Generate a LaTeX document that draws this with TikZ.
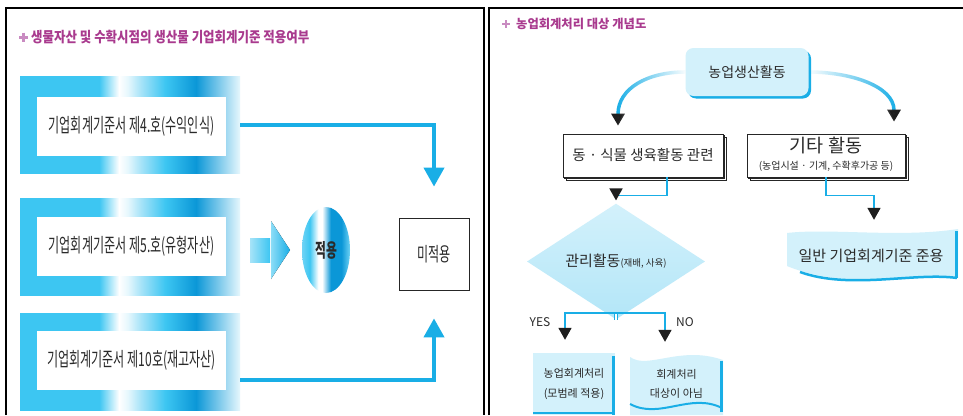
\documentclass[tikz,border=0pt]{standalone}
\usepackage{fontspec}
\setmainfont{Noto Sans CJK KR}
\newfontfamily\kr{Noto Sans CJK KR}
\newfontfamily\krc[FakeStretch=0.62]{Noto Sans CJK KR}
\newfontfamily\krt[FakeStretch=0.86]{Noto Sans CJK KR}
\usetikzlibrary{arrows.meta,shadows,shapes.geometric,fadings}
\definecolor{cy}{HTML}{19AEE6}
\definecolor{cA}{HTML}{3DC6F2}
\definecolor{cB}{HTML}{0B97D7}
\definecolor{cL}{HTML}{A6E3F8}
\definecolor{cW}{HTML}{E6F7FD}
\definecolor{cM}{HTML}{6FD3F5}
\definecolor{mag}{HTML}{A93A8E}
\definecolor{plus}{HTML}{C98BC1}
\definecolor{pale}{HTML}{D3F1FB}
\definecolor{paleD}{HTML}{B3E6F8}
\definecolor{dark}{HTML}{1E1E1E}
\definecolor{txt}{HTML}{2A2A2A}
\pgfdeclarehorizontalshading{band}{100bp}{color(0bp)=(cA); color(25bp)=(cA); color(43bp)=(cA); color(47.5bp)=(white); color(49.5bp)=(cW); color(52.5bp)=(cL); color(58bp)=(cA); color(65bp)=(cB); color(75bp)=(cW); color(100bp)=(cW)}
\pgfdeclarehorizontalshading{ellshade}{100bp}{color(0bp)=(cM); color(25bp)=(cM); color(33bp)=(cA); color(42bp)=(white); color(46bp)=(white); color(55bp)=(cB); color(66bp)=(cB); color(75bp)=(cM); color(100bp)=(cM)}
\tikzfading[name=fadeL, left color=transparent!0, right color=transparent!100]
\tikzfading[name=fadeR, left color=transparent!100, right color=transparent!0]
\tikzset{
  bandbox/.style={rectangle, shading=band, minimum width=220pt, minimum height=97pt, inner sep=0pt},
  inbox/.style={rectangle, fill=white, minimum width=189pt, minimum height=59pt, inner sep=0pt, text=txt, font=\krc\fontsize{19.5}{21}\selectfont},
  bigarrow/.style={draw=cy, line width=4pt, -{Triangle[length=19pt,width=20pt]}},
  stackbox/.style={rectangle, draw=black!85, line width=0.7pt, fill=white, inner sep=0pt, text=txt,
    copy shadow={shadow xshift=3pt, shadow yshift=-3pt, draw=black!85, line width=0.7pt},
    copy shadow={shadow xshift=1.5pt, shadow yshift=-1.5pt, draw=black!85, line width=0.7pt}},
  flow/.style={draw=cy, line width=1.6pt, -{Triangle[length=12pt,width=13pt,color=dark]}},
  curved/.style={draw=cy, line width=3.5pt, -{Triangle[length=12pt,width=13pt,color=dark]}},
  lbl/.style={inner sep=0pt, text=txt},
  plusmark/.style={draw=plus, line width=#1, line cap=butt},
}
\begin{document}
\begin{tikzpicture}[x=1pt,y=-1pt]
\useasboundingbox (0,0) rectangle (963,415);
\fill[white] (0,0) rectangle (963,415);
% panel frames
\draw[line width=1.5pt] (6,415) -- (6,8) -- (484,8) -- (484,415);
\draw[line width=1.5pt] (489,415) -- (489,8) -- (963,8);

% ---------------- left panel ----------------
\draw[plusmark=3pt] (19,37) -- (28,37) (23.5,32.5) -- (23.5,41.5);
\node[anchor=west, inner sep=0pt, font=\krt\bfseries\fontsize{14.5}{14.5}\selectfont, text=mag] (ltitle) at (31,37) {생물자산 및 수확시점의 생산물 기업회계기준 적용여부};

\node[bandbox] (b1) at (130,125) {};
\node[inbox] (b1t) at (131.5,126.5) {기업회계기준서 제4.호(수익인식)};
\node[bandbox] (b2) at (130,246.5) {};
\node[inbox] (b2t) at (131.5,246.5) {기업회계기준서 제5.호(유형자산)};
\node[bandbox] (b3) at (130,361.5) {};
\node[inbox] (b3t) at (131.5,360.5) {기업회계기준서 제10호(재고자산)};

% block arrow
\fill[left color=cL, right color=cA] (250,238) rectangle (270,262);
\fill[left color=cA!60!white, right color=cy] (271,221) -- (290,250) -- (271,279) -- cycle;

\node[ellipse, shading=ellshade, minimum width=48pt, minimum height=86pt, inner sep=0pt, text=txt,
      font=\krc\bfseries\fontsize{19}{19}\selectfont] (apply) at (326,250) {적용};

\node[rectangle, draw=black!85, line width=0.8pt, fill=white, minimum width=70pt, minimum height=72pt, inner sep=0pt,
      text=txt, font=\krc\fontsize{19.5}{19.5}\selectfont] (nonapp) at (434,254) {미적용};

\draw[bigarrow, shorten >=31pt] (b1.east) -| (nonapp.north);
\draw[bigarrow, shorten >=28pt] ([yshift=-18.5pt]b3.east) -| (nonapp.south);

% ---------------- right panel ----------------
\draw[plusmark=2.6pt] (502,24) -- (510,24) (506,20) -- (506,28);
\node[anchor=west, inner sep=0pt, font=\kr\bfseries\fontsize{12.3}{12.3}\selectfont, text=mag] (rtitle) at (516,24) {농업회계처리 대상 개념도};

\node[rectangle, rounded corners=8pt, fill=pale, minimum width=123pt, minimum height=48pt, inner sep=0pt, text=txt,
      font=\kr\fontsize{14}{14}\selectfont,
      drop shadow={shadow xshift=2.5pt, shadow yshift=-2.5pt, fill=cy, opacity=1}] (top) at (747,72) {농업생산활동};

\node[stackbox, minimum width=160pt, minimum height=43pt, font=\kr\fontsize{14.5}{14.5}\selectfont] (bio) at (643,155.5) {동 · 식물 생육활동 관련};
\node[stackbox, minimum width=158pt, minimum height=43pt] (etc) at (826,155.5) {};
\node[lbl, font=\kr\fontsize{18.5}{18.5}\selectfont] (etc1) at (826,145) {기타 활동};
\node[lbl, font=\kr\fontsize{10}{10}\selectfont] (etc2) at (826,166) {(농업시설 · 기계, 수확후가공 등)};

\draw[curved, path fading=fadeL] (top.west) .. controls (648,72) and (618,88) .. ([xshift=-25pt,yshift=8pt]bio.north);
\draw[curved, path fading=fadeR] (top.east) .. controls (850,72) and (894,86) .. ([xshift=68pt,yshift=12pt]etc.north);

% diamond
\node[diamond, shading=axis, top color=pale, bottom color=paleD, minimum width=178pt, minimum height=73pt, inner sep=0pt, text=txt] (dia) at (616,261.5)
  {{\kr\fontsize{15}{15}\selectfont 관리활동}{\kr\fontsize{9.5}{9.5}\selectfont (재배, 사육)}};

\draw[flow, shorten >=3pt] ([xshift=24pt]bio.south) -- ++(0,18) -| (dia.north);

% general banner
\fill[pale] (787,233) .. controls (830,228) and (900,238) .. (958,229) -- (958,278) .. controls (920,272) and (850,292) .. (787,266) -- cycle;
\draw[cy, line width=2.5pt] (800,272) .. controls (850,290) and (915,272) .. (957,278);
\draw[cy, line width=3pt] (956,231) -- (956,278);
\node[rectangle, minimum width=171pt, minimum height=48pt, inner sep=0pt, text=txt, font=\kr\fontsize{15}{15}\selectfont] (gen) at (871,256) {일반 기업회계기준 준용};

\draw[flow, shorten >=12pt] (etc.south) -- ++(0,18) -| ([xshift=3pt]gen.north);

% yes / no branches
\coordinate (split) at (616,313);
\draw[draw=cy, line width=1.2pt, double=white, double distance=2.5pt] (dia.south) -- (split);

\node[rectangle, fill=pale, minimum width=82pt, minimum height=62pt, inner sep=0pt, text=txt, align=center,
      font=\kr\fontsize{11}{19.5}\selectfont] (yes) at (574,384) {농업회계처리\\(모범례 적용)};
\draw[cy, line width=3pt] (613.5,356) -- (613.5,415);
\draw[cy, line width=1.5pt] (533,413) -- (615,413);

\fill[pale] (630,357) .. controls (648,370) and (680,345) .. (723,360) -- (723,415) -- (630,415) -- cycle;
\draw[cy, line width=2.5pt] (721.5,361) -- (721.5,412);
\draw[cy, line width=2pt] (630,404) .. controls (660,420) and (690,392) .. (722,408);
\node[rectangle, minimum width=93pt, minimum height=58pt, inner sep=0pt, text=txt, align=center,
      font=\kr\fontsize{11}{19.5}\selectfont] (no) at (676.5,384) {회계처리\\대상이 아님};

\draw[flow, shorten >=13pt] (split) -| ([xshift=-9pt]yes.north);
\draw[flow, shorten >=13pt] (split) -| ([xshift=-11.5pt]no.north);

\node[lbl, font=\kr\fontsize{12}{12}\selectfont] (yeslbl) at (540,322) {YES};
\node[lbl, font=\kr\fontsize{12}{12}\selectfont] (nolbl) at (685,322) {NO};
\end{tikzpicture}
\end{document}
